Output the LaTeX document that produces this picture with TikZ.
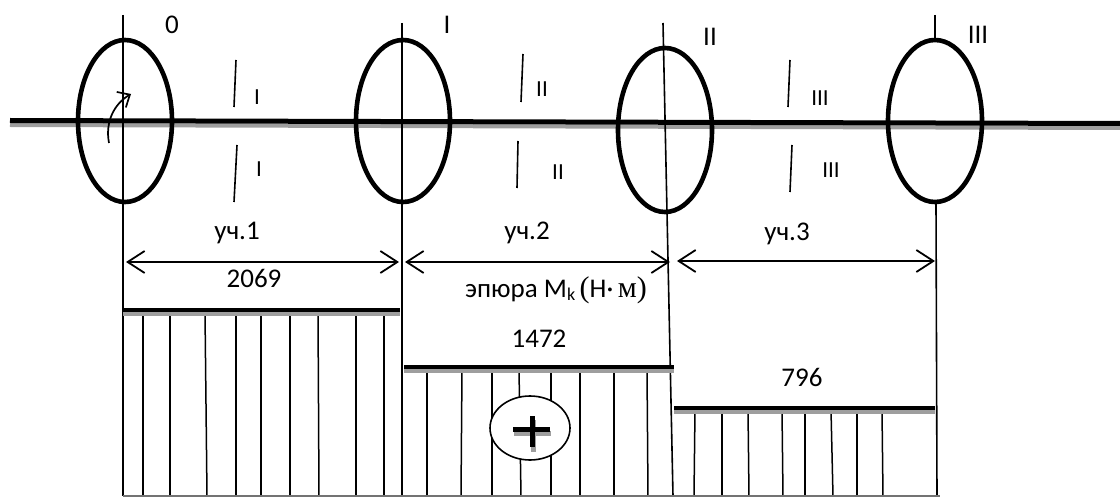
\documentclass[tikz,border=0pt]{standalone}
\usepackage{fontspec}
\setmainfont{Carlito}
\newfontfamily\serifm{Liberation Serif}
\usetikzlibrary{arrows.meta}
\begin{document}
\begin{tikzpicture}[x=1pt,y=-1pt,
  fine/.style={line width=1.6pt},
  disk/.style={line width=4.6pt},
  dim/.style={line width=1.8pt,{Straight Barb[length=17pt,width=22pt]}-{Straight Barb[length=17pt,width=22pt]}},
  lbl/.style={font=\fontsize{27}{30}\selectfont,inner sep=0pt},
  slbl/.style={font=\fontsize{23}{26}\selectfont,inner sep=0pt},
  barblack/.style={line width=4pt,black},
  barshadow/.style={line width=4pt,black!38},
  hatch/.style={line width=1.5pt}]
\useasboundingbox (0,0) rectangle (1120,497);
% shaft
\draw[line width=4pt,black!38] (10,125) -- (1120,128);
\draw[line width=5pt] (10,120.5) -- (1120,123.5);
% vertical section lines
\coordinate (v0t) at (123,15);  \coordinate (v0b) at (123,496);
\coordinate (v1t) at (402,23);  \coordinate (v1b) at (402,496);
\coordinate (v2t) at (663,23);  \coordinate (v2b) at (673,496);
\coordinate (v3t) at (935,15);  \coordinate (v3m) at (935,40);
\coordinate (v3n) at (936,203); \coordinate (v3b) at (937,496);
\draw[fine] (v0t) -- (v0b);
\draw[fine] (v1t) -- (v1b);
\draw[fine] (v2t) -- (v2b);
\draw[fine] (v3t) -- (v3m);
\draw[fine] (v3n) -- (v3b);
% disks
\draw[disk] (125,121) ellipse [x radius=47, y radius=81];
\draw[disk] (403,121) ellipse [x radius=47, y radius=81];
\draw[disk] (665,130) ellipse [x radius=47, y radius=82];
\draw[disk] (935,121) ellipse [x radius=47, y radius=81];
% rotation arrow
\coordinate (r0) at (109,143); \coordinate (r1) at (131,94);
\draw[line width=1.7pt,-{Straight Barb[length=10pt,width=18pt]}] (r0) .. controls (105,122) and (114,104) .. (r1);
% disk labels
\node[lbl] (n0) at (172,25) {0};
\node[lbl] (n1) at (447,25) {I};
\node[lbl] (n2) at (710,37) {II};
\node[lbl] (n3) at (978,35) {III};
% section marks
\draw[fine] (236,60) -- (234,107);
\draw[fine] (237,145) -- (234,202);
\draw[fine] (523,54) -- (521,102);
\draw[fine] (518,141) -- (517,188);
\draw[fine] (790,60) -- (788,107);
\draw[fine] (792,145) -- (790,192);
\node[slbl] (s1a) at (257,97) {I};
\node[slbl] (s1b) at (259,169) {I};
\node[slbl] (s2a) at (542,89) {II};
\node[slbl] (s2b) at (558,172) {II};
\node[slbl] (s3a) at (820,98) {III};
\node[slbl] (s3b) at (831,170) {III};
% dimension arrows
\coordinate (a1l) at (126,262); \coordinate (a1r) at (399,262);
\coordinate (a2l) at (405,262); \coordinate (a2r) at (670,262);
\coordinate (a3l) at (677,261); \coordinate (a3r) at (935,261);
\draw[dim] (a1l) -- (a1r);
\draw[dim] (a2l) -- (a2r);
\draw[dim] (a3l) -- (a3r);
\node[lbl,anchor=base] (u1) at (237,240) {уч.1};
\node[lbl,anchor=base] (u2) at (527,240) {уч.2};
\node[lbl,anchor=base] (u3) at (787,241) {уч.3};
\node[lbl,anchor=base] (t1) at (254,288) {2069};
\node[lbl,anchor=base west] (ep) at (465,298) {эпюра M{\fontsize{18}{20}\selectfont\raisebox{-3pt}{k}}\,{\serifm\fontsize{30}{32}\selectfont(}Н·\,{\serifm\fontsize{30}{32}\selectfont м)}};
\node[lbl,anchor=base] (t2) at (539,348) {1472};
\node[lbl,anchor=base] (t3) at (802,386) {796};
% hatching
\foreach \x/\y in {143/143,170/170,205/207,236/236,261/261,290/290,318/319,356/356,384/384}
  \draw[hatch] (\x,312) -- (\y,496);
\foreach \x/\y in {427/427,462/461,492/492,519/521,551/551,580/580,614/614,647/648}
  \draw[hatch] (\x,369) -- (\y,496);
\foreach \x/\y in {695/694,722/722,748/749,782/783,805/805,831/833,857/857,882/883}
  \draw[hatch] (\x,410) -- (\y,496);
% bars
\draw[barshadow] (123,314) -- (400,314);
\draw[barblack] (123,310) -- (400,310);
\draw[barshadow] (404,371) -- (674,371);
\draw[barblack] (404,367) -- (674,367);
\draw[barshadow] (674,412) -- (935,412);
\draw[barblack] (674,408) -- (935,408);
\draw[line width=1.5pt,black!55] (123,496) -- (940,496);
% plus sign
\draw[fine,fill=white] (530,428) ellipse [x radius=40, y radius=32];
\draw[line width=5pt,black!38] (514,433) -- (551,433);
\draw[line width=5pt,black!38] (533,420) -- (533,452);
\draw[line width=5pt] (513,429) -- (550,429);
\draw[line width=5pt] (532,416) -- (532,447);
\end{tikzpicture}
\end{document}
